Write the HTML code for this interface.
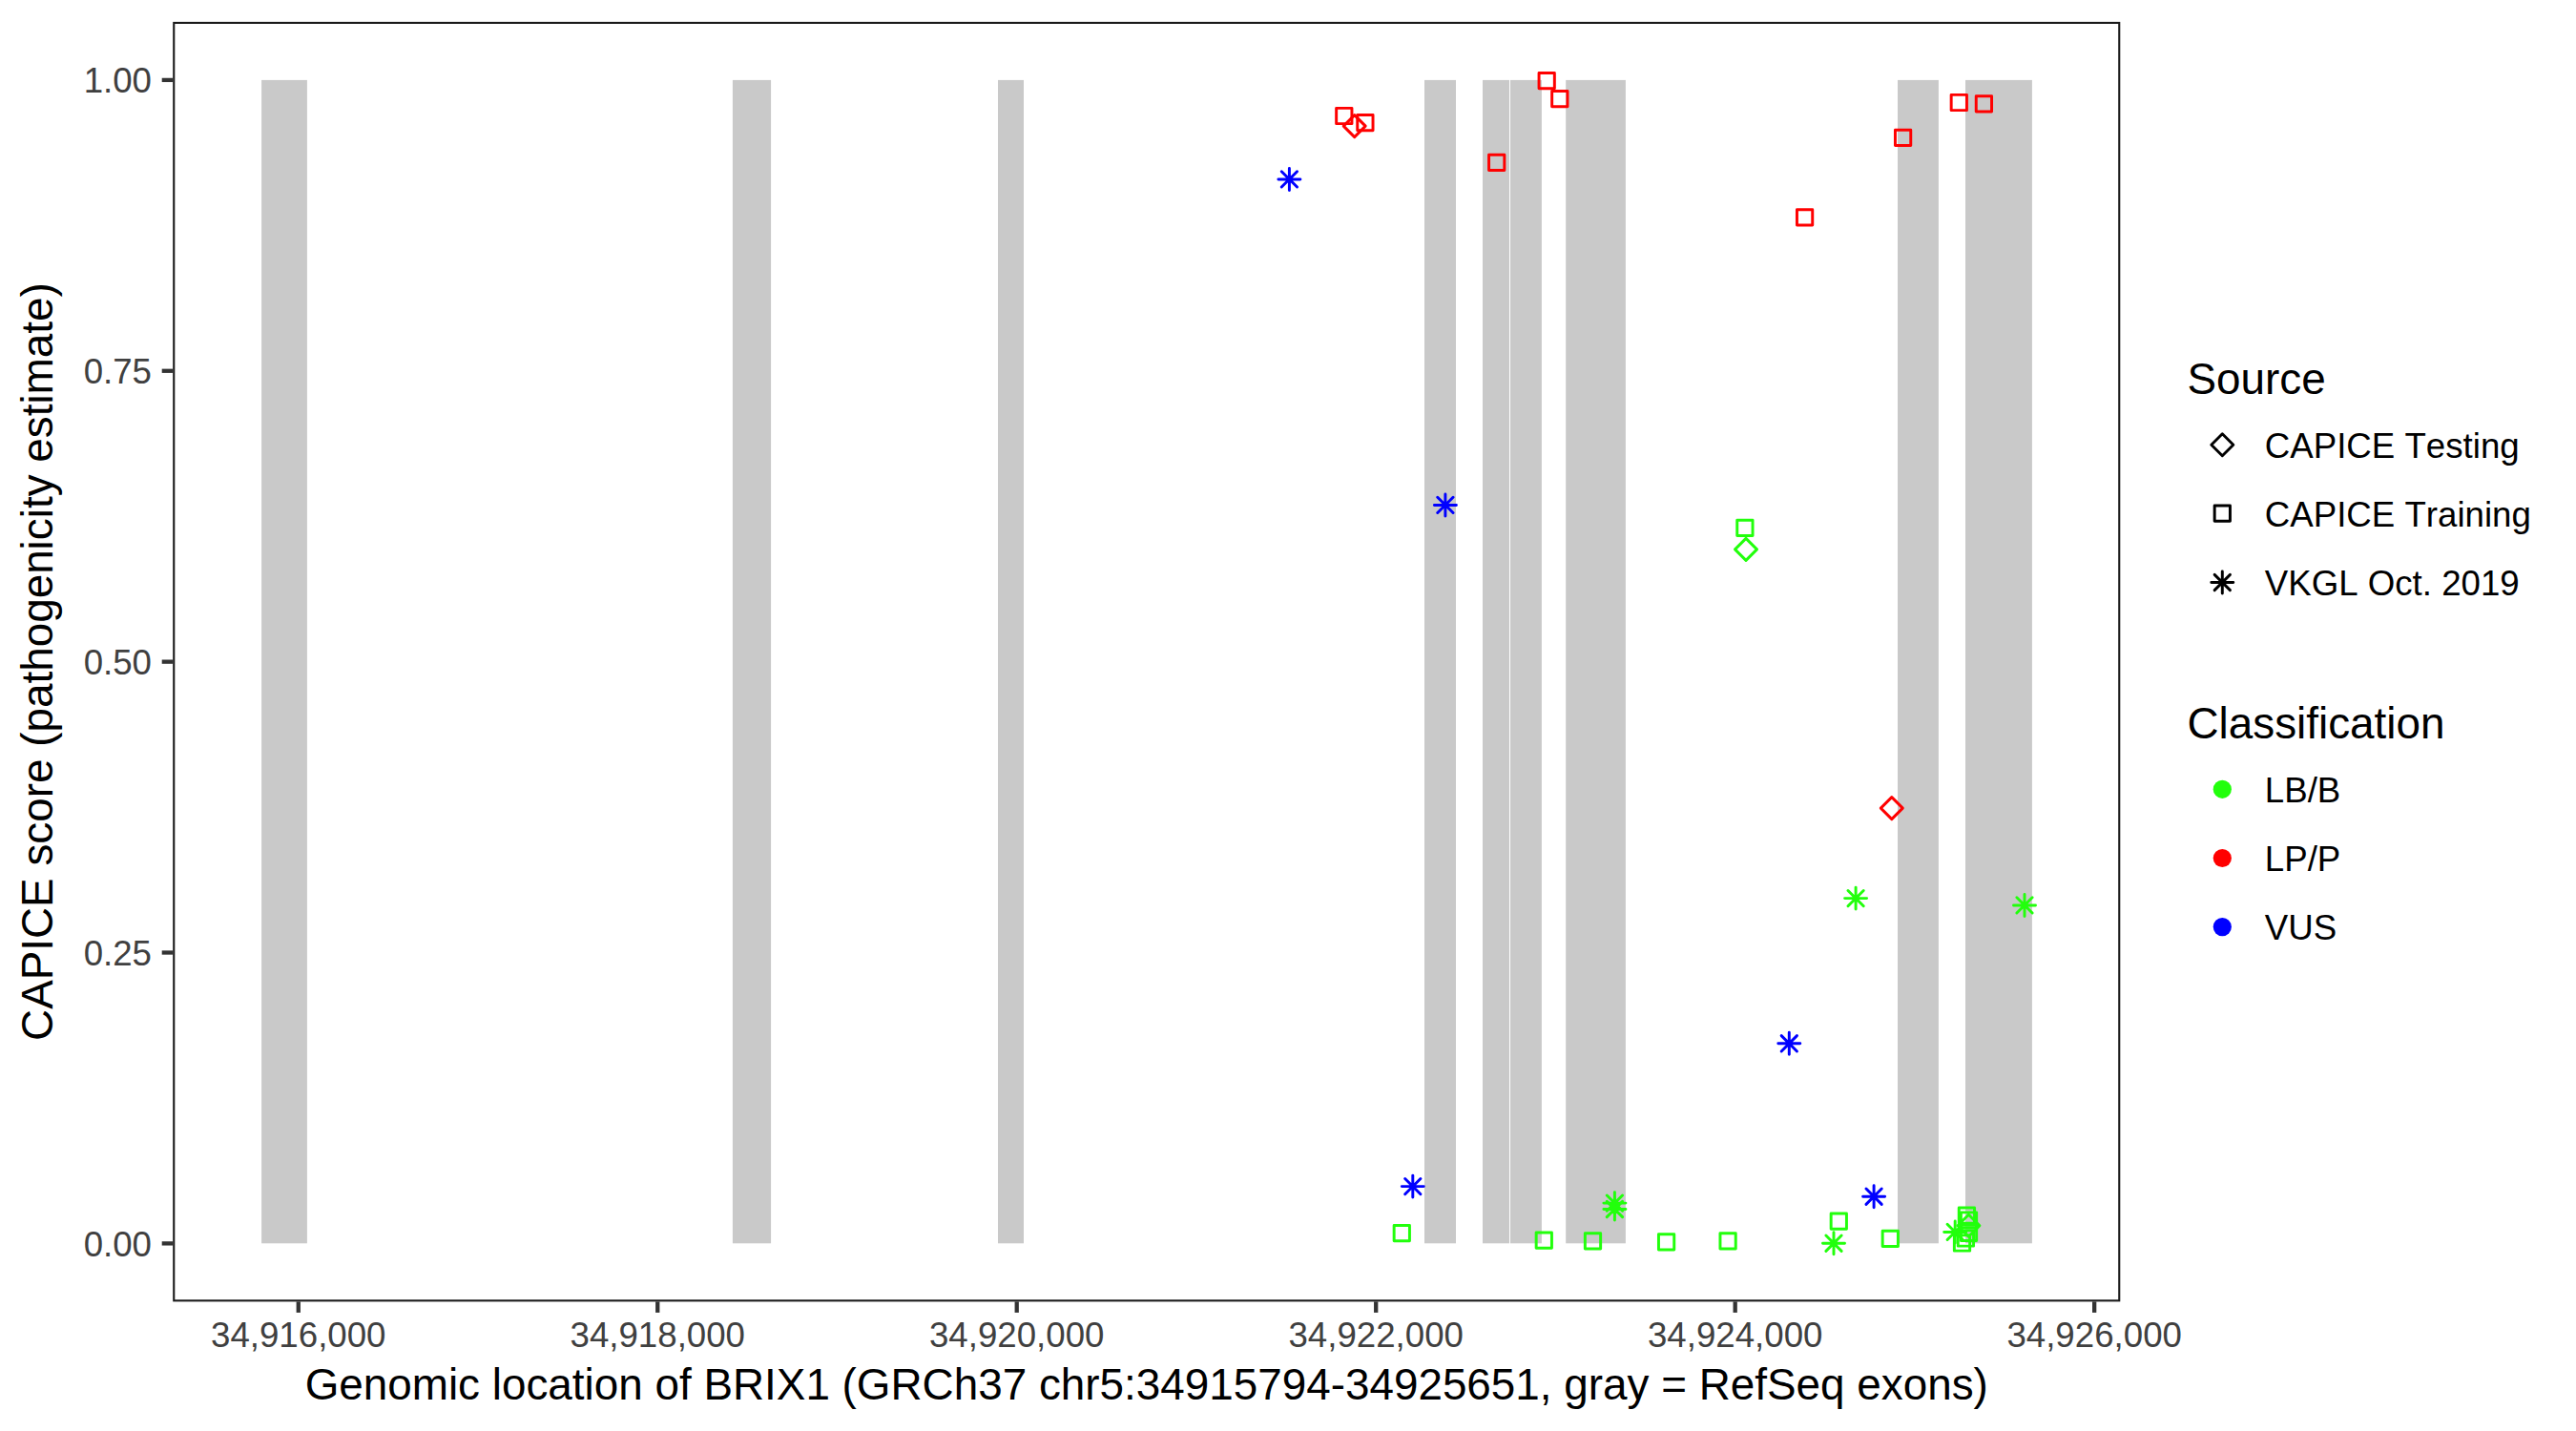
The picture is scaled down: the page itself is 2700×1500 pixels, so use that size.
<!DOCTYPE html><html><head><meta charset="utf-8"><style>html,body{margin:0;padding:0;background:#fff;width:2700px;height:1500px;overflow:hidden}svg{display:block}text{font-family:"Liberation Sans",sans-serif;font-kerning:none;font-feature-settings:"kern" 0}</style></head><body>
<svg width="2700" height="1500" viewBox="0 0 2700 1500">
<rect x="0" y="0" width="2700" height="1500" fill="#fff"/>
<g fill="#C9C9C9">
<rect x="274.1" y="83.9" width="47.80" height="1219.40"/>
<rect x="767.9" y="83.9" width="40.20" height="1219.40"/>
<rect x="1046.0" y="83.9" width="27.00" height="1219.40"/>
<rect x="1493.0" y="83.9" width="33.00" height="1219.40"/>
<rect x="1554.0" y="83.9" width="28.00" height="1219.40"/>
<rect x="1583.0" y="83.9" width="32.90" height="1219.40"/>
<rect x="1641.2" y="83.9" width="62.70" height="1219.40"/>
<rect x="1989.0" y="83.9" width="42.90" height="1219.40"/>
<rect x="2060.0" y="83.9" width="69.90" height="1219.40"/>
</g>
<g fill="none" stroke-width="2.95" stroke-linejoin="round" stroke-linecap="round">
<rect x="1400.66" y="113.36" width="16.28" height="16.28" stroke="#FF0000"/>
<path d="M1419.70 120.60L1431.20 132.10L1419.70 143.60L1408.20 132.10Z" stroke="#FF0000"/>
<rect x="1422.76" y="120.56" width="16.28" height="16.28" stroke="#FF0000"/>
<rect x="1560.56" y="162.26" width="16.28" height="16.28" stroke="#FF0000"/>
<rect x="1613.06" y="76.56" width="16.28" height="16.28" stroke="#FF0000"/>
<rect x="1626.66" y="95.46" width="16.28" height="16.28" stroke="#FF0000"/>
<rect x="1883.46" y="219.76" width="16.28" height="16.28" stroke="#FF0000"/>
<rect x="1986.46" y="136.16" width="16.28" height="16.28" stroke="#FF0000"/>
<rect x="2045.16" y="99.36" width="16.28" height="16.28" stroke="#FF0000"/>
<rect x="2071.26" y="100.76" width="16.28" height="16.28" stroke="#FF0000"/>
<path d="M1982.80 835.60L1994.30 847.10L1982.80 858.60L1971.30 847.10Z" stroke="#FF0000"/>
<path d="M1343.26 179.76L1359.54 196.04M1343.26 196.04L1359.54 179.76M1339.90 187.90L1362.90 187.90M1351.40 176.40L1351.40 199.40" stroke="#0000FF"/>
<path d="M1506.76 521.26L1523.04 537.54M1506.76 537.54L1523.04 521.26M1503.40 529.40L1526.40 529.40M1514.90 517.90L1514.90 540.90" stroke="#0000FF"/>
<path d="M1472.66 1235.46L1488.94 1251.74M1472.66 1251.74L1488.94 1235.46M1469.30 1243.60L1492.30 1243.60M1480.80 1232.10L1480.80 1255.10" stroke="#0000FF"/>
<path d="M1867.16 1085.66L1883.44 1101.94M1867.16 1101.94L1883.44 1085.66M1863.80 1093.80L1886.80 1093.80M1875.30 1082.30L1875.30 1105.30" stroke="#0000FF"/>
<path d="M1955.96 1246.06L1972.24 1262.34M1955.96 1262.34L1972.24 1246.06M1952.60 1254.20L1975.60 1254.20M1964.10 1242.70L1964.10 1265.70" stroke="#0000FF"/>
<rect x="1820.76" y="545.16" width="16.28" height="16.28" stroke="#22FF0C"/>
<path d="M1830.00 564.40L1841.50 575.90L1830.00 587.40L1818.50 575.90Z" stroke="#22FF0C"/>
<path d="M1936.96 933.46L1953.24 949.74M1936.96 949.74L1953.24 933.46M1933.60 941.60L1956.60 941.60M1945.10 930.10L1945.10 953.10" stroke="#22FF0C"/>
<path d="M2113.86 940.76L2130.14 957.04M2113.86 957.04L2130.14 940.76M2110.50 948.90L2133.50 948.90M2122.00 937.40L2122.00 960.40" stroke="#22FF0C"/>
<path d="M1684.26 1252.96L1700.54 1269.24M1684.26 1269.24L1700.54 1252.96M1680.90 1261.10L1703.90 1261.10M1692.40 1249.60L1692.40 1272.60" stroke="#22FF0C"/>
<path d="M1684.26 1259.36L1700.54 1275.64M1684.26 1275.64L1700.54 1259.36M1680.90 1267.50L1703.90 1267.50M1692.40 1256.00L1692.40 1279.00" stroke="#22FF0C"/>
<rect x="1461.16" y="1284.56" width="16.28" height="16.28" stroke="#22FF0C"/>
<rect x="1610.16" y="1292.06" width="16.28" height="16.28" stroke="#22FF0C"/>
<rect x="1661.36" y="1292.76" width="16.28" height="16.28" stroke="#22FF0C"/>
<rect x="1738.46" y="1293.66" width="16.28" height="16.28" stroke="#22FF0C"/>
<rect x="1802.96" y="1292.76" width="16.28" height="16.28" stroke="#22FF0C"/>
<rect x="1919.16" y="1271.96" width="16.28" height="16.28" stroke="#22FF0C"/>
<path d="M1913.86 1295.06L1930.14 1311.34M1913.86 1311.34L1930.14 1295.06M1910.50 1303.20L1933.50 1303.20M1922.00 1291.70L1922.00 1314.70" stroke="#22FF0C"/>
<rect x="1973.16" y="1290.26" width="16.28" height="16.28" stroke="#22FF0C"/>
<path d="M2041.06 1283.26L2057.34 1299.54M2041.06 1299.54L2057.34 1283.26M2037.70 1291.40L2060.70 1291.40M2049.20 1279.90L2049.20 1302.90" stroke="#22FF0C"/>
<rect x="2048.36" y="1294.86" width="16.28" height="16.28" stroke="#22FF0C"/>
<rect x="2052.26" y="1289.86" width="16.28" height="16.28" stroke="#22FF0C"/>
<rect x="2053.26" y="1265.96" width="16.28" height="16.28" stroke="#22FF0C"/>
<rect x="2055.36" y="1270.86" width="16.28" height="16.28" stroke="#22FF0C"/>
<rect x="2055.36" y="1284.26" width="16.28" height="16.28" stroke="#22FF0C"/>
<path d="M2063.40 1273.20L2074.90 1284.70L2063.40 1296.20L2051.90 1284.70Z" stroke="#22FF0C"/>
</g>
<rect x="182.25" y="23.95" width="2039.00" height="1339.40" fill="none" stroke="#1A1A1A" stroke-width="2.1"/>
<g stroke="#333333" stroke-width="4.3">
<line x1="169.70" y1="1303.40" x2="181.20" y2="1303.40"/>
<line x1="169.70" y1="998.52" x2="181.20" y2="998.52"/>
<line x1="169.70" y1="693.65" x2="181.20" y2="693.65"/>
<line x1="169.70" y1="388.77" x2="181.20" y2="388.77"/>
<line x1="169.70" y1="83.90" x2="181.20" y2="83.90"/>
<line x1="312.76" y1="1364.40" x2="312.76" y2="1375.90"/>
<line x1="689.24" y1="1364.40" x2="689.24" y2="1375.90"/>
<line x1="1065.72" y1="1364.40" x2="1065.72" y2="1375.90"/>
<line x1="1442.20" y1="1364.40" x2="1442.20" y2="1375.90"/>
<line x1="1818.68" y1="1364.40" x2="1818.68" y2="1375.90"/>
<line x1="2195.16" y1="1364.40" x2="2195.16" y2="1375.90"/>
</g>
<g fill="#404040" font-size="36.67" text-anchor="end">
<text transform="translate(159.0 1316.60) scale(1 1.03)">0.00</text>
<text transform="translate(159.0 1011.73) scale(1 1.03)">0.25</text>
<text transform="translate(159.0 706.85) scale(1 1.03)">0.50</text>
<text transform="translate(159.0 401.97) scale(1 1.03)">0.75</text>
<text transform="translate(159.0 97.10) scale(1 1.03)">1.00</text>
</g>
<g fill="#404040" font-size="36.67" text-anchor="middle">
<text transform="translate(312.76 1412.0) scale(1 1.03)">34,916,000</text>
<text transform="translate(689.24 1412.0) scale(1 1.03)">34,918,000</text>
<text transform="translate(1065.72 1412.0) scale(1 1.03)">34,920,000</text>
<text transform="translate(1442.20 1412.0) scale(1 1.03)">34,922,000</text>
<text transform="translate(1818.68 1412.0) scale(1 1.03)">34,924,000</text>
<text transform="translate(2195.16 1412.0) scale(1 1.03)">34,926,000</text>
</g>
<text x="1201.75" y="1467.3" font-size="45.83" fill="#000" text-anchor="middle">Genomic location of BRIX1 (GRCh37 chr5:34915794-34925651, gray = RefSeq exons)</text>
<text transform="translate(54.8 693.6) rotate(-90)" x="0" y="0" font-size="45.83" fill="#000" text-anchor="middle">CAPICE score (pathogenicity estimate)</text>
<text x="2292.5" y="413.0" font-size="45.83" fill="#000">Source</text>
<text x="2292.5" y="773.6" font-size="45.83" fill="#000">Classification</text>
<g fill="none" stroke-width="2.95" stroke-linejoin="round" stroke-linecap="round">
<path d="M2329.30 454.80L2340.80 466.30L2329.30 477.80L2317.80 466.30Z" stroke="#000"/>
<rect x="2321.16" y="530.06" width="16.28" height="16.28" stroke="#000"/>
<path d="M2321.16 602.36L2337.44 618.64M2321.16 618.64L2337.44 602.36M2317.80 610.50L2340.80 610.50M2329.30 599.00L2329.30 622.00" stroke="#000"/>
</g>
<g font-size="36.67" fill="#000">
<text x="2373.8" y="480.00">CAPICE Testing</text>
<text x="2373.8" y="551.90">CAPICE Training</text>
<text x="2373.8" y="624.20">VKGL Oct. 2019</text>
<text x="2373.8" y="841.00">LB/B</text>
<text x="2373.8" y="913.20">LP/P</text>
<text x="2373.8" y="985.30">VUS</text>
</g>
<circle cx="2329.3" cy="827.3" r="9.6" fill="#22FF0C"/>
<circle cx="2329.3" cy="899.5" r="9.6" fill="#FF0000"/>
<circle cx="2329.3" cy="971.6" r="9.6" fill="#0000FF"/>
</svg></body></html>
